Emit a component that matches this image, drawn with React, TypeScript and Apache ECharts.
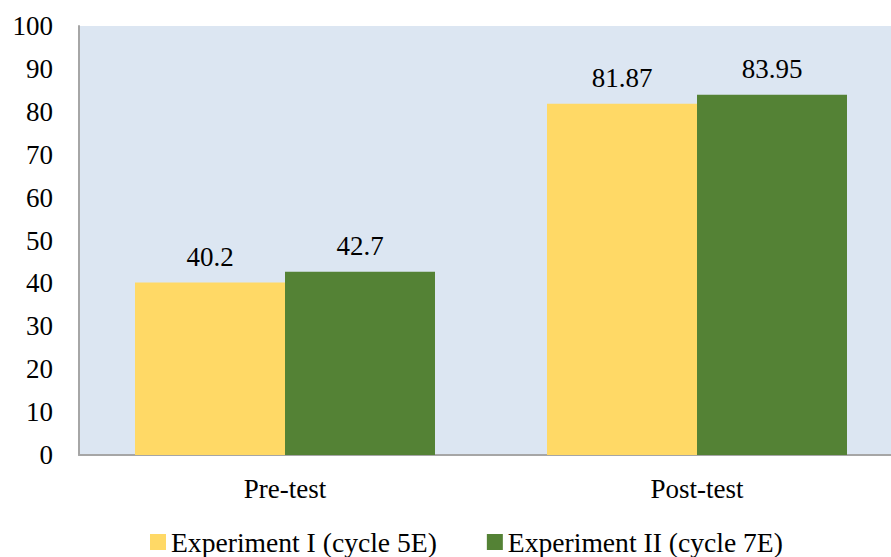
import React, { useEffect, useRef } from "react";
import * as echarts from "echarts";

const categories = ["Pre-test", "Post-test"];
const seriesNames = ["Experiment I (cycle 5E)", "Experiment II (cycle 7E)"];
const experiment1 = [40.2, 81.87];
const experiment2 = [42.7, 83.95];
const yTicks = { min: 0, max: 100, interval: 10 };

const FONT = "Liberation Serif";
const FS = 27;

export default function App() {
  const ref = useRef<HTMLDivElement>(null);
  useEffect(() => {
    if (!ref.current) return;
    const chart = echarts.init(ref.current, null, { renderer: "svg" });
    const label = {
      show: true,
      position: "top",
      distance: 12,
      color: "#000",
      fontFamily: FONT,
      fontSize: FS,
    };
    chart.setOption({
      animation: false,
      textStyle: { fontFamily: FONT, color: "#000" },
      grid: {
        left: 79,
        top: 26,
        right: 0,
        height: 429,
        show: true,
        backgroundColor: "#DCE6F2",
        borderWidth: 0,
      },
      legend: {
        left: 145,
        top: 523,
        itemWidth: 16,
        itemHeight: 16,
        itemGap: 50,
        icon: "rect",
        textStyle: { fontFamily: FONT, fontSize: 27.6, color: "#000", lineHeight: 26 },
        data: seriesNames,
      },
      xAxis: {
        type: "category",
        data: categories,
        axisLine: { show: true, lineStyle: { color: "#A6A6A6", width: 2 } },
        axisTick: { show: false },
        axisLabel: { margin: 20, color: "#000", fontFamily: FONT, fontSize: FS },
      },
      yAxis: {
        type: "value",
        min: yTicks.min,
        max: yTicks.max,
        interval: yTicks.interval,
        axisLine: { show: true, lineStyle: { color: "#A6A6A6", width: 2 } },
        axisTick: { show: false },
        splitLine: { show: false },
        axisLabel: { margin: 26, color: "#000", fontFamily: FONT, fontSize: FS },
      },
      series: [
        {
          name: seriesNames[0],
          type: "bar",
          data: experiment1,
          barWidth: 150,
          barGap: "0%",
          itemStyle: { color: "#FFD966" },
          label,
        },
        {
          name: seriesNames[1],
          type: "bar",
          data: experiment2,
          barWidth: 150,
          barGap: "0%",
          itemStyle: { color: "#548235" },
          label,
        },
      ],
    });
    return () => chart.dispose();
  }, []);
  return (
    <div
      style={{ position: "fixed", left: 0, top: 0, width: 891, height: 557, overflow: "hidden", background: "#fff" }}
    >
      <div ref={ref} style={{ width: 903, height: 557 }} />
    </div>
  );
}
